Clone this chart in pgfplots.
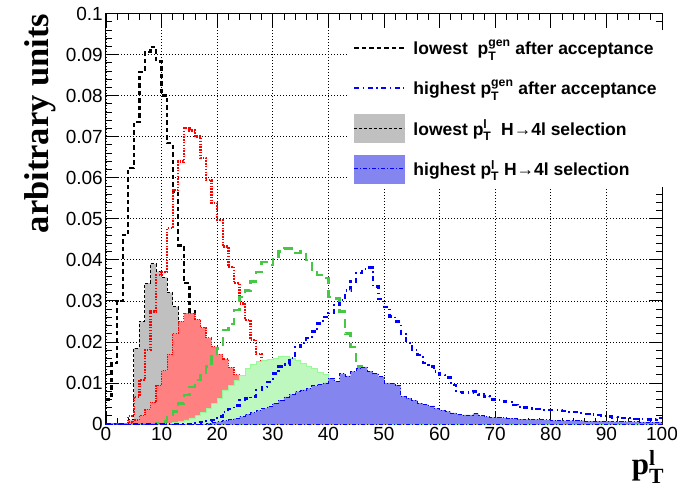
\documentclass[border=0pt]{standalone}
\usepackage{fontspec}
\setmainfont{Liberation Sans}
\newfontfamily\timesfont{Liberation Serif}
\usepackage{amsmath}
\usepackage{pgfplots}
\usepackage{pgfplotstable}
\pgfplotsset{compat=1.18}
\definecolor{gyfill}{RGB}{192,192,192}
\definecolor{rdfill}{RGB}{255,128,128}
\definecolor{grfill}{RGB}{190,248,190}
\definecolor{blfill}{RGB}{133,133,240}
\definecolor{grline}{RGB}{70,200,70}
\tikzset{
 blk/.style={black,line width=2.3pt,dash pattern=on 4.5pt off 3pt},
 rdl/.style={red,line width=2.4pt,dash pattern=on 1.5pt off 1.3pt},
 grl/.style={grline,line width=2.4pt,dash pattern=on 9pt off 6pt},
 bll/.style={blue,line width=2.3pt,dash pattern=on 5pt off 3.5pt on 1.5pt off 3.5pt},
}
\pgfplotstableread{
x bk gy rl rf gl gf bl bf
0 0.006 0 0 0 0 0 0 0
1 0.0148 0 0 0 0 0 0 0
2 0.030 0 0 0 0 0 0 0
3 0.046 0 0 0 0 0 0 0
4 0.0624 0.001 0.002 0.0005 0 0 0 0
5 0.0736 0.0185 0.0066 0.001 0 0 0 0
6 0.0858 0.025 0.0107 0.002 0 0 0 0
7 0.0907 0.0343 0.018 0.0035 0 0 0 0
8 0.0919 0.039 0.0274 0.0053 0 0 0 0
9 0.0883 0.0372 0.0363 0.0094 0.0003 0 0 0
10 0.080 0.0357 0.037 0.013 0.0006 0 0 0
11 0.0684 0.032 0.0477 0.017 0.002 0.0001 0 0
12 0.0566 0.0286 0.057 0.022 0.003 0.0003 0 0
13 0.0435 0.020 0.0639 0.025 0.005 0.0006 0 0
14 0.0343 0.012 0.0721 0.027 0.007 0.001 0 0
15 0.0274 0.006 0.0715 0.027 0.009 0.0015 0 0
16 0.010 0.003 0.070 0.0255 0.0107 0.002 0.0002 0
17 0.004 0.001 0.0648 0.0235 0.012 0.0028 0.0005 0
18 0.0015 0 0.0594 0.021 0.014 0.0038 0.0008 0.0002
19 0.0005 0 0.0538 0.0188 0.0164 0.005 0.001 0.0004
20 0 0 0.0497 0.017 0.0184 0.0063 0.0018 0.0006
21 0 0 0.0432 0.0158 0.0229 0.0083 0.003 0.0008
22 0 0 0.0383 0.0138 0.0244 0.0095 0.0036 0.001
23 0 0 0.0343 0.012 0.0278 0.0107 0.0045 0.0013
24 0 0 0.0294 0.0105 0.031 0.0119 0.0058 0.0018
25 0 0 0.0253 0.008 0.0325 0.0136 0.0062 0.0024
26 0 0 0.0205 0.006 0.0347 0.0146 0.0067 0.0028
27 0 0 0.017 0.004 0.0371 0.0152 0.0083 0.0033
28 0 0 0.004 0.003 0.0395 0.0156 0.009 0.0038
29 0 0 0.0015 0.002 0.0387 0.0158 0.0103 0.0042
30 0 0 0.0005 0.001 0.0404 0.016 0.0123 0.005
31 0 0 0 0.0005 0.042 0.0164 0.014 0.0058
32 0 0 0 0 0.0428 0.0165 0.0145 0.0066
33 0 0 0 0 0.0428 0.016 0.016 0.0072
34 0 0 0 0 0.0416 0.0155 0.0188 0.0079
35 0 0 0 0 0.042 0.0148 0.0198 0.0083
36 0 0 0 0 0.040 0.014 0.0209 0.0087
37 0 0 0 0 0.0375 0.0135 0.0225 0.0093
38 0 0 0 0 0.0363 0.0125 0.0245 0.0097
39 0 0 0 0 0.0355 0.012 0.026 0.0100
40 0 0 0 0 0.031 0.0112 0.027 0.0112
41 0 0 0 0 0.0306 0.009 0.029 0.0104
42 0 0 0 0 0.0274 0.007 0.0302 0.0123
43 0 0 0 0 0.022 0.005 0.0325 0.0117
44 0 0 0 0 0.0187 0.004 0.0347 0.0128
45 0 0 0 0 0.014 0.003 0.0367 0.0136
46 0 0 0 0 0.006 0.002 0.0377 0.0139
47 0 0 0 0 0.003 0.0015 0.0381 0.0129
48 0 0 0 0 0.0015 0.001 0.0335 0.0123
49 0 0 0 0 0.0008 0.0005 0.0305 0.0115
50 0 0 0 0 0.0003 0.0003 0.0285 0.0100
51 0 0 0 0 0 0 0.0262 0.0099
52 0 0 0 0 0 0 0.025 0.0095
53 0 0 0 0 0 0 0.022 0.0068
54 0 0 0 0 0 0 0.0197 0.0063
55 0 0 0 0 0 0 0.018 0.0058
56 0 0 0 0 0 0 0.0168 0.0051
57 0 0 0 0 0 0 0.0148 0.0047
58 0 0 0 0 0 0 0.014 0.0044
59 0 0 0 0 0 0 0.0128 0.0038
60 0 0 0 0 0 0 0.012 0.0034
61 0 0 0 0 0 0 0.0113 0.0031
62 0 0 0 0 0 0 0.0095 0.0027
63 0 0 0 0 0 0 0.0078 0.0024
64 0 0 0 0 0 0 0.0077 0.0022
65 0 0 0 0 0 0 0.0077 0.0022
66 0 0 0 0 0 0 0.0079 0.0025
67 0 0 0 0 0 0 0.0072 0.002
68 0 0 0 0 0 0 0.0067 0.0018
69 0 0 0 0 0 0 0.006 0.0016
70 0 0 0 0 0 0 0.0058 0.0016
71 0 0 0 0 0 0 0.0055 0.0015
72 0 0 0 0 0 0 0.0054 0.0014
73 0 0 0 0 0 0 0.0046 0.0013
74 0 0 0 0 0 0 0.0042 0.0012
75 0 0 0 0 0 0 0.004 0.0011
76 0 0 0 0 0 0 0.0038 0.0011
77 0 0 0 0 0 0 0.0036 0.0011
78 0 0 0 0 0 0 0.0034 0.001
79 0 0 0 0 0 0 0.0034 0.001
80 0 0 0 0 0 0 0.0034 0.0009
81 0 0 0 0 0 0 0.0034 0.0008
82 0 0 0 0 0 0 0.0032 0.0008
83 0 0 0 0 0 0 0.003 0.0008
84 0 0 0 0 0 0 0.003 0.0008
85 0 0 0 0 0 0 0.0026 0.0008
86 0 0 0 0 0 0 0.0025 0.0007
87 0 0 0 0 0 0 0.0023 0.0007
88 0 0 0 0 0 0 0.0022 0.0007
89 0 0 0 0 0 0 0.002 0.0007
90 0 0 0 0 0 0 0.0018 0.0007
91 0 0 0 0 0 0 0.0016 0.0006
92 0 0 0 0 0 0 0.0014 0.0006
93 0 0 0 0 0 0 0.0014 0.0006
94 0 0 0 0 0 0 0.0014 0.0006
95 0 0 0 0 0 0 0.0013 0.0006
96 0 0 0 0 0 0 0.0012 0.0005
97 0 0 0 0 0 0 0.0011 0.0005
98 0 0 0 0 0 0 0.0011 0.0005
99 0 0 0 0 0 0 0.0014 0.0005
100 0 0 0 0 0 0 0.0014 0.0005
}\histdata
\begin{document}
\begin{tikzpicture}
\path[use as bounding box] (-106pt,-69pt) rectangle (571pt,424pt);
\begin{axis}[
 at={(0pt,0pt)}, anchor=south west,
 width=556pt, height=410.5pt, scale only axis,
 xmin=0, xmax=100, ymin=0, ymax=0.1,
 xtick={0,10,...,100},
 ytick={0,0.01,0.02,0.03,0.04,0.05,0.06,0.07,0.08,0.09,0.1},
 yticklabels={0,0.01,0.02,0.03,0.04,0.05,0.06,0.07,0.08,0.09,0.1},
 minor x tick num=4, minor y tick num=4,
 tick align=inside, tick pos=both,
 major tick length=13pt, minor tick length=6.5pt,
 tick style={black, line width=0.8pt},
 grid=major,
 major grid style={black, line width=0.7pt, dash pattern=on 0.8pt off 2.2pt},
 axis line style={line width=1pt},
 /pgf/number format/assume math mode=true,
 tick label style={font=\fontsize{19}{22}\selectfont},
 yticklabel style={inner sep=3pt},
 xticklabel style={inner sep=3pt},
 ylabel={\timesfont\bfseries arbitrary units},
 ylabel style={at={(axis description cs:-0.104,1)}, anchor=base east, font=\fontsize{34.5}{38}\selectfont, inner sep=0pt},
 xlabel={\timesfont\bfseries p$_{\text{T}}^{\text{l}}$},
 xlabel style={at={(axis description cs:1.004,-0.122)}, anchor=base east, font=\fontsize{31}{34}\selectfont, inner sep=0pt},
 legend style={at={(axis description cs:0.437,0.96)}, anchor=north west, draw=none, fill=white,
   font=\fontsize{17.5}{20}\selectfont\bfseries, row sep=12pt, column sep=6pt, inner sep=4pt},
 legend cell align=left,
]
\addlegendimage{legend image code/.code={\path[draw=none,fill=none] (0pt,-14pt) rectangle (50pt,14pt); \draw[blk] (0pt,0pt) -- (50pt,0pt);}}
\addlegendentry{lowest\ \ p$_{\text{T}}^{\text{gen}}$ after acceptance}
\addlegendimage{legend image code/.code={\path[draw=none,fill=none] (0pt,-14pt) rectangle (50pt,14pt); \draw[bll] (0pt,0pt) -- (50pt,0pt);}}
\addlegendentry{highest p$_{\text{T}}^{\text{gen}}$ after acceptance}
\addlegendimage{legend image code/.code={\fill[gyfill] (0pt,-14pt) rectangle (50pt,14pt); \draw[black,line width=1pt,dash pattern=on 3pt off 2pt] (0pt,0pt) -- (50pt,0pt);}}
\addlegendentry{lowest p$_{\text{T}}^{\text{l}}$\ \ H→4l selection}
\addlegendimage{legend image code/.code={\fill[blfill] (0pt,-14pt) rectangle (50pt,14pt); \draw[blue,line width=1pt,dash pattern=on 4pt off 2pt on 1pt off 2pt] (0pt,0pt) -- (50pt,0pt);}}
\addlegendentry{highest p$_{\text{T}}^{\text{l}}$ H→4l selection}

% drawing order as in the original: each generator-level line, then its selection histogram
\addplot[forget plot, const plot mark left, blk] table[x=x,y=bk]{\histdata};
\addplot[forget plot, const plot mark left, fill=gyfill, draw=black, line width=0.9pt, dash pattern=on 3pt off 2pt] table[x=x,y=gy]{\histdata} \closedcycle;
\addplot[forget plot, const plot mark left, rdl] table[x=x,y=rl]{\histdata};
\addplot[forget plot, const plot mark left, fill=rdfill, draw=red, line width=1.3pt, dash pattern=on 1.3pt off 1.2pt] table[x=x,y=rf]{\histdata} \closedcycle;
\addplot[forget plot, const plot mark left, grl] table[x=x,y=gl]{\histdata};
\addplot[forget plot, const plot mark left, fill=grfill, draw=grfill!80!green, line width=0.6pt] table[x=x,y=gf]{\histdata} \closedcycle;
\addplot[forget plot, const plot mark left, bll] table[x=x,y=bl]{\histdata};
\addplot[forget plot, const plot mark left, fill=blfill, draw=blue, line width=0.8pt, dash pattern=on 4pt off 2pt on 1pt off 2pt] table[x=x,y=bf]{\histdata} \closedcycle;
\end{axis}
\end{tikzpicture}
\end{document}
